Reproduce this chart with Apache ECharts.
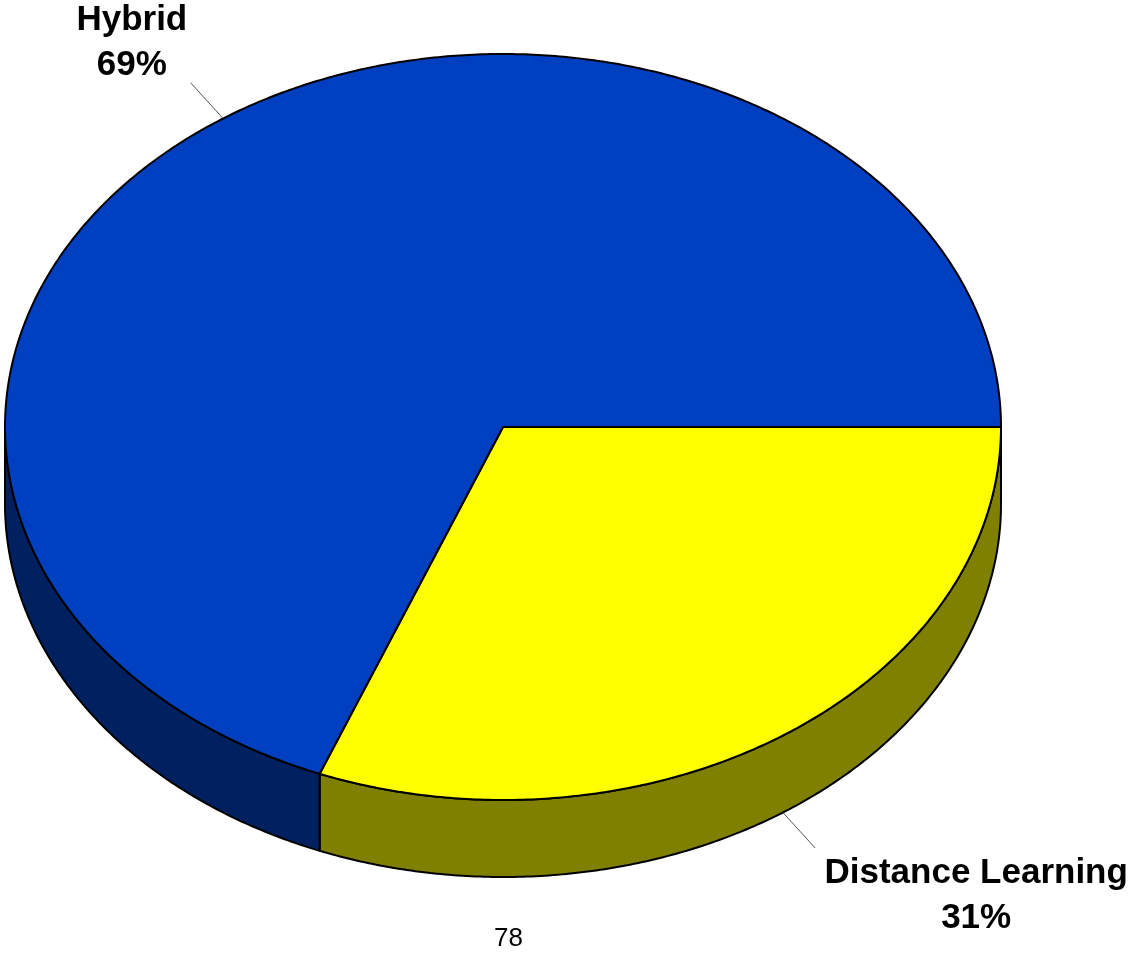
<!DOCTYPE html>
<html><head><meta charset="utf-8">
<script src="https://cdn.jsdelivr.net/npm/echarts@6/dist/echarts.min.js"></script>
<style>html,body{margin:0;padding:0;background:#fff}#c{width:1139px;height:954px}</style>
</head><body><div id="c"></div>
<script>
// ---- data ----
const categories = ['Distance Learning', 'Hybrid'];
const values = [31, 69];
const percentLabels = ['31%', '69%'];
const footnote = '78';

// ---- styling / layout ----
const topColors = ['#FFFF00', '#0040C0'];
const sideColors = ['#808000', '#002060'];
const labelOffsets = [[161, 48], [-59, -40]];
const geom = {cx: 503, cy: 427, rx: 498, ry: 373, depth: 77, leader: 48};

const total = values.reduce((a, b) => a + b, 0);
const starts = [];
let acc = 0;
values.forEach(v => { starts.push(acc); acc += v; });

function pt(a, dy) {
  return [geom.cx + geom.rx * Math.cos(a), geom.cy + geom.ry * Math.sin(a) + (dy || 0)];
}
function arc(a1, a2, dy) {
  const n = Math.max(2, Math.ceil(Math.abs(a2 - a1) / (Math.PI / 360)));
  const pts = [];
  for (let i = 0; i <= n; i++) pts.push(pt(a1 + (a2 - a1) * i / n, dy));
  return pts;
}

function renderItem(params, api) {
  const i = params.dataIndex;
  const v = api.value(0);
  const a1 = starts[i] / total * 2 * Math.PI;
  const a2 = (starts[i] + v) / total * 2 * Math.PI;
  const children = [];
  [0, 2 * Math.PI].forEach(k => {
    const s = Math.max(a1, k), e = Math.min(a2, k + Math.PI);
    if (e > s) {
      children.push({
        type: 'polygon', z2: 1,
        shape: {points: arc(s, e, 0).concat(arc(e, s, geom.depth))},
        style: {fill: sideColors[i], stroke: '#000', lineWidth: 2, lineJoin: 'round'}
      });
    }
  });
  children.push({
    type: 'polygon', z2: 2,
    shape: {points: [[geom.cx, geom.cy]].concat(arc(a1, a2, 0))},
    style: {fill: topColors[i], stroke: '#000', lineWidth: 2, lineJoin: 'round'}
  });
  const mid = (a1 + a2) / 2;
  const p = pt(mid, Math.sin(mid) > 0 ? geom.depth : 0);
  const dx = geom.rx * Math.cos(mid), dy = geom.ry * Math.sin(mid);
  const len = Math.sqrt(dx * dx + dy * dy);
  const q = [p[0] + dx / len * geom.leader, p[1] + dy / len * geom.leader];
  children.push({
    type: 'line', z2: 3,
    shape: {x1: p[0], y1: p[1], x2: q[0], y2: q[1]},
    style: {stroke: '#555', lineWidth: 1}
  });
  children.push({
    type: 'text', z2: 4,
    style: {
      text: categories[i] + '\n' + percentLabels[i],
      x: q[0] + labelOffsets[i][0], y: q[1] + labelOffsets[i][1],
      align: 'center', verticalAlign: 'middle',
      fontSize: 35, fontWeight: 'bold', fontFamily: '"Liberation Sans", Arial, sans-serif',
      lineHeight: 45, fill: '#000'
    }
  });
  return {type: 'group', children};
}

const chart = echarts.init(document.getElementById('c'), null, {renderer: 'canvas'});
chart.setOption({
  animation: false,
  backgroundColor: '#fff',
  title: {
    text: footnote, left: 494, top: 926, padding: 0,
    textStyle: {fontSize: 26, fontWeight: 'normal', color: '#000',
                fontFamily: '"Liberation Sans", Arial, sans-serif'}
  },
  series: [{
    type: 'custom',
    coordinateSystem: 'none',
    renderItem: renderItem,
    data: values.map((v, i) => ({name: categories[i], value: [v]}))
  }]
});
</script>
</body></html>
